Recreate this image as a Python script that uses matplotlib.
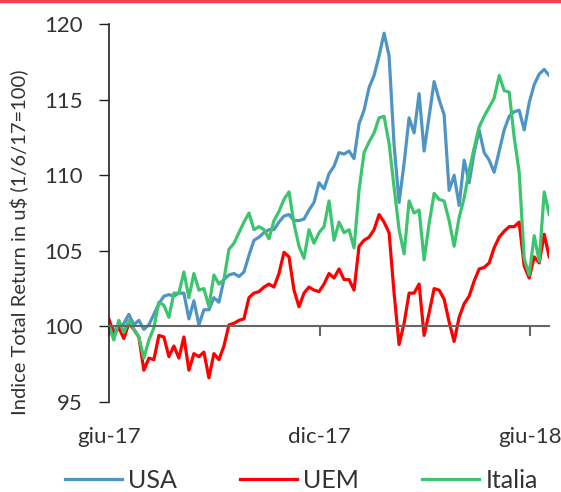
import matplotlib
matplotlib.use("Agg")
import matplotlib.pyplot as plt
from matplotlib.lines import Line2D
import pandas as pd

plt.rcParams['font.family'] = ['Lato', 'DejaVu Sans']

# indici total return in u$, base 1/6/17 = 100 (campioni circa ogni 3 giorni lavorativi)
usa = [100.1, 99.8, 99.9, 100.2, 100.8, 100.1, 100.4, 99.8, 100.1, 100.8,
       101.5, 102.0, 102.1, 102.0, 102.2, 102.2, 100.5, 101.7, 100.1, 101.1,
       101.1, 101.9, 101.6, 103.1, 103.4, 103.5, 103.3, 103.6, 104.7, 105.7,
       105.9, 106.2, 106.4, 106.4, 106.9, 107.3, 107.4, 107.0, 107.0, 107.1,
       107.7,
       108.2, 109.5, 109.1, 110.1, 110.6, 111.5, 111.4, 111.6, 111.1, 113.4,
       114.3, 115.8, 116.6, 117.9, 119.4, 117.9, 112.0, 108.2, 110.8, 113.8,
       112.8, 115.4, 111.6, 113.9, 116.2, 115.0, 114.0, 109.0, 110.0, 108.0,
       111.0, 109.5, 111.5, 113.0, 111.5, 111.0, 110.2, 111.6, 113.0, 113.9,
       114.2, 114.3, 113.0, 114.8, 116.0, 116.7, 117.0, 116.6]

uem = [100.5, 99.5, 99.9, 99.2, 100.2, 99.8, 99.3, 97.1, 97.9, 97.8,
       99.4, 99.3, 98.0, 98.7, 97.9, 99.3, 97.1, 98.2, 98.0, 98.3,
       96.6, 98.2, 97.8, 98.7, 100.1, 100.2, 100.4, 100.5, 101.9, 102.2,
       102.3, 102.6, 102.8, 102.6, 103.5, 104.9, 104.6, 102.4, 101.3, 102.2,
       102.6,
       102.4, 102.3, 102.8, 103.5, 103.2, 103.8, 103.1, 103.1, 102.4, 105.3,
       105.7, 105.9, 106.4, 107.4, 106.9, 106.2, 102.2, 98.8, 100.2, 102.2,
       102.2, 102.8, 99.4, 100.9, 102.5, 102.4, 101.8, 100.3, 99.0, 100.6,
       101.5, 102.0, 103.0, 103.8, 103.9, 104.2, 105.2, 105.9, 106.3, 106.6,
       106.6, 106.9, 104.0, 103.2, 104.6, 104.2, 106.1, 104.6]

italia = [100.1, 99.1, 100.4, 99.6, 100.4, 99.8, 99.3, 97.9, 99.1, 99.9,
          101.6, 101.4, 100.6, 102.2, 102.2, 103.6, 101.9, 103.5, 102.4, 102.5,
          101.3, 103.4, 102.8, 103.1, 105.1, 105.5, 106.2, 106.9, 107.5, 106.4,
          106.6, 106.4, 105.8, 107.0, 107.6, 108.4, 108.9, 106.8, 105.3, 104.5,
          106.4,
          105.5, 106.2, 106.6, 108.3, 105.7, 106.9, 106.2, 106.4, 105.2, 109.0,
          111.5, 112.2, 112.8, 113.8, 113.9, 112.1, 109.2, 106.4, 104.8, 108.3,
          107.5, 107.7, 104.4, 106.8, 108.8, 108.4, 108.3, 107.0, 105.3, 107.2,
          108.5, 110.3, 111.8, 113.2, 113.9, 114.5, 115.1, 116.6, 115.6, 115.5,
          112.5, 110.2, 104.5, 103.4, 106.0, 104.3, 108.9, 107.4]

dates = pd.date_range("2017-06-01", "2018-06-18", periods=len(usa))
tick_dates = pd.to_datetime(["2017-06-01", "2017-12-01", "2018-06-01"])
tick_labels = ["giu-17", "dic-17", "giu-18"]

fig = plt.figure(figsize=(5.61, 4.92), dpi=100)
ax = fig.add_axes([0.194, 0.183, 0.785, 0.768])

ax.plot(dates, usa, color="#4f95c3", lw=2.3, label="USA")
ax.plot(dates, uem, color="#ff0000", lw=2.3, label="UEM")
ax.plot(dates, italia, color="#3cc46e", lw=2.3, label="Italia")

ax.set_ylim(95, 120)
ax.set_yticks([95, 100, 105, 110, 115, 120])
ax.set_xlim(dates[0], dates[-1])

# asse x che incrocia a 100, etichette in basso
ax.spines['top'].set_visible(False)
ax.spines['right'].set_visible(False)
ax.spines['bottom'].set_position(('data', 100))
ax.spines['bottom'].set_color("#666666")
ax.spines['bottom'].set_linewidth(1.5)
ax.spines['left'].set_color("#222222")
ax.spines['left'].set_linewidth(1.2)
ax.set_xticks(tick_dates)
ax.tick_params(axis='x', direction='out', length=7, width=1.5,
               color="#666666", labelbottom=False)
ax.tick_params(axis='y', direction='out', length=7, width=1.0,
               color="#222222", labelsize=16, labelcolor="#333333", pad=12)

sec = ax.secondary_xaxis(location=0)
sec.set_xticks(tick_dates)
sec.set_xticklabels(tick_labels)
sec.spines['bottom'].set_visible(False)
sec.tick_params(length=0, labelsize=16, labelcolor="#333333", pad=18)

ax.set_ylabel("Indice Total Return in u$ (1/6/17=100)", fontsize=14.5,
              color="#333333")
ax.yaxis.set_label_coords(-0.184, 0.423)

ax.legend(loc="center", bbox_to_anchor=(0.437, -0.208), ncol=3,
          frameon=False, fontsize=18, handlelength=2.3, handletextpad=0.25,
          columnspacing=2.5, labelcolor="#333333")

# barra rossa in alto
fig.add_artist(Line2D([0, 1], [0.997, 0.997], color="#f0424c", lw=2.5,
                      transform=fig.transFigure))

fig.savefig("out.png", dpi=100)
